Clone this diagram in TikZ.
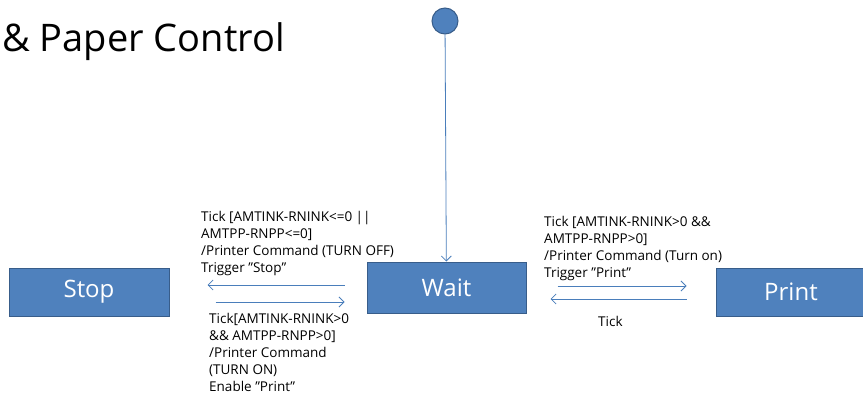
\documentclass[tikz,border=0pt]{standalone}
\usepackage{fontspec}
\setmainfont{Open Sans}
\usetikzlibrary{arrows.meta,calc}
\definecolor{boxblue}{HTML}{4F81BD}
\definecolor{boxline}{HTML}{385D8A}
\definecolor{arrowblue}{HTML}{4A7EBB}

\begin{document}
\begin{tikzpicture}[x=1pt,y=-1pt,
  state/.style={draw=boxline,fill=boxblue,line width=1pt,text=white,font=\fontsize{24}{28}\selectfont,inner sep=0pt},
  flow/.style={draw=arrowblue,line width=0.8pt,-{Straight Barb[length=5pt,width=10pt]}},
  guard/.style={align=left,anchor=north west,inner sep=0pt,font=\fontsize{13.5}{17}\selectfont}]

\useasboundingbox (0,0) rectangle (863,396);

\node[anchor=base west,inner sep=0pt,font=\fontsize{38}{46}\selectfont] (title) at (2,52) {\& Paper Control};

% 状态
\node[state,minimum width=160pt,minimum height=48pt] (stop) at (89,292) {Stop};
\node[state,minimum width=159pt,minimum height=51pt] (wait) at (446.5,287.5) {Wait};
\node[state,minimum width=150pt,minimum height=48pt] (print) at (791,292) {Print};
\node[circle,draw=boxline,fill=boxblue,line width=1pt,minimum size=26pt,inner sep=0pt] (init) at (445,21) {};

% 转移
\draw[flow] (init) -- (wait);
\draw[flow] ($(wait.west)+(-22,-2.5)$) -- ++(-137,0);
\draw[flow] ($(stop.east)+(46,10)$) -- ++(129,0);
\draw[flow] ($(wait.east)+(31,-1.5)$) -- ++(129,0);
\draw[flow] ($(print.west)+(-29,7)$) -- ++(-136,0);

\node[guard] (offlbl) at (201,211) {Tick [AMTINK-RNINK<=0 ||\\AMTPP-RNPP<=0]\\/Printer Command (TURN OFF)\\Trigger "Stop"};
\node[guard] (onlbl) at (209,313) {Tick[AMTINK-RNINK>0\\\&\& AMTPP-RNPP>0]\\/Printer Command\\(TURN ON)\\Enable "Print"};
\node[guard] (printlbl) at (544,216) {Tick [AMTINK-RNINK>0 \&\&\\AMTPP-RNPP>0]\\/Printer Command (Turn on)\\Trigger "Print"};
\node[guard] (ticklbl) at (598,316) {Tick};

\end{tikzpicture}
\end{document}
